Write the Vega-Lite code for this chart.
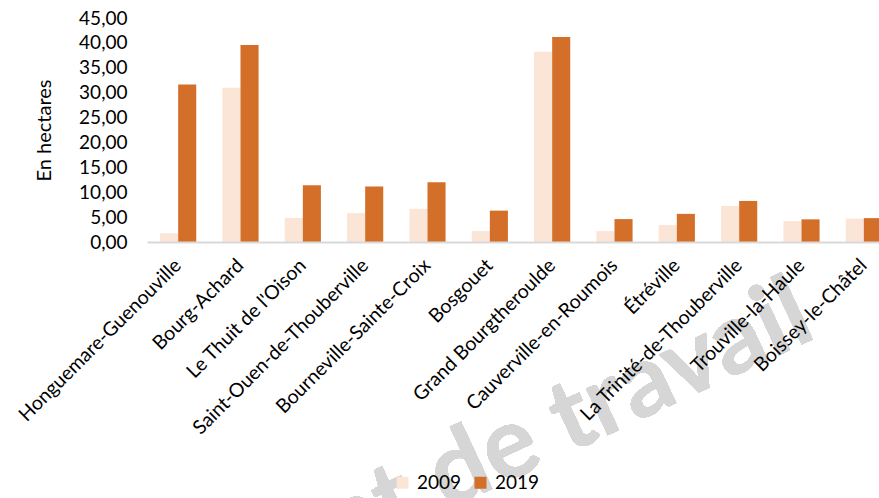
{
  "$schema": "https://vega.github.io/schema/vega-lite/v6.json",
  "width": 748,
  "height": 224,
  "autosize": {"type": "none"},
  "padding": {"left": 147, "top": 18, "right": 0, "bottom": 256},
  "background": "white",
  "config": {"view": {"stroke": null}, "font": "Lato"},
  "data": {
    "values": [
      {"commune": "Honguemare-Guenouville", "annee": "2009", "surface": 1.75},
      {"commune": "Honguemare-Guenouville", "annee": "2019", "surface": 31.65},
      {"commune": "Bourg-Achard", "annee": "2009", "surface": 31.0},
      {"commune": "Bourg-Achard", "annee": "2019", "surface": 39.6},
      {"commune": "Le Thuit de l'Oison", "annee": "2009", "surface": 4.85},
      {"commune": "Le Thuit de l'Oison", "annee": "2019", "surface": 11.4},
      {"commune": "Saint-Ouen-de-Thouberville", "annee": "2009", "surface": 5.8},
      {"commune": "Saint-Ouen-de-Thouberville", "annee": "2019", "surface": 11.15},
      {"commune": "Bourneville-Sainte-Croix", "annee": "2009", "surface": 6.65},
      {"commune": "Bourneville-Sainte-Croix", "annee": "2019", "surface": 12.0},
      {"commune": "Bosgouet", "annee": "2009", "surface": 2.2},
      {"commune": "Bosgouet", "annee": "2019", "surface": 6.3},
      {"commune": "Grand Bourgtheroulde", "annee": "2009", "surface": 38.2},
      {"commune": "Grand Bourgtheroulde", "annee": "2019", "surface": 41.2},
      {"commune": "Cauverville-en-Roumois", "annee": "2009", "surface": 2.2},
      {"commune": "Cauverville-en-Roumois", "annee": "2019", "surface": 4.6},
      {"commune": "Étréville", "annee": "2009", "surface": 3.4},
      {"commune": "Étréville", "annee": "2019", "surface": 5.65},
      {"commune": "La Trinité-de-Thouberville", "annee": "2009", "surface": 7.25},
      {"commune": "La Trinité-de-Thouberville", "annee": "2019", "surface": 8.25},
      {"commune": "Trouville-la-Haule", "annee": "2009", "surface": 4.2},
      {"commune": "Trouville-la-Haule", "annee": "2019", "surface": 4.55},
      {"commune": "Boissey-le-Châtel", "annee": "2009", "surface": 4.7},
      {"commune": "Boissey-le-Châtel", "annee": "2019", "surface": 4.8}
    ]
  },
  "layer": [
    {
      "mark": {"type": "bar"},
      "encoding": {
        "x": {
          "field": "commune",
          "type": "nominal",
          "sort": null,
          "scale": {
            "domain": ["Honguemare-Guenouville", "Bourg-Achard", "Le Thuit de l'Oison", "Saint-Ouen-de-Thouberville", "Bourneville-Sainte-Croix", "Bosgouet", "Grand Bourgtheroulde", "Cauverville-en-Roumois", "Étréville", "La Trinité-de-Thouberville", "Trouville-la-Haule", "Boissey-le-Châtel"],
            "paddingInner": 0.42,
            "paddingOuter": 0.21
          },
          "axis": {
            "title": null,
            "labelAngle": -45,
            "labelAlign": "right",
            "labelBaseline": "middle",
            "labelFont": "Lato",
            "labelFontSize": 19.5,
            "labelColor": "#000000",
            "labelLimit": 400,
            "labelOverlap": false,
            "labelPadding": 20,
            "ticks": false,
            "domainColor": "#d9d9d9",
            "domainWidth": 2,
            "zindex": 1
          }
        },
        "xOffset": {"field": "annee", "type": "nominal"},
        "y": {
          "field": "surface",
          "type": "quantitative",
          "scale": {"domain": [0, 45], "nice": false},
          "axis": {
            "title": "En hectares",
            "titleFont": "Lato",
            "titleFontSize": 20,
            "titleFontWeight": "normal",
            "titleColor": "#000000",
            "titlePadding": 24,
            "values": [0, 5, 10, 15, 20, 25, 30, 35, 40, 45],
            "labelExpr": "replace(format(datum.value, '.2f'), '.', ',')",
            "labelOverlap": false,
            "labelFont": "Lato",
            "labelFontSize": 19,
            "labelColor": "#000000",
            "labelPadding": 20,
            "ticks": false,
            "domain": false,
            "grid": false,
            "zindex": 1
          }
        },
        "color": {
          "field": "annee",
          "type": "nominal",
          "scale": {"domain": ["2009", "2019"], "range": ["#fbe5d6", "#d46f29"]},
          "legend": {
            "title": null,
            "orient": "none",
            "direction": "horizontal",
            "legendX": 246,
            "legendY": 455,
            "symbolType": "square",
            "symbolSize": 144,
            "symbolStrokeWidth": 0,
            "labelFont": "Lato",
            "labelFontSize": 19,
            "labelColor": "#000000",
            "labelOffset": 5,
            "columnPadding": 9
          }
        }
      }
    },
    {
      "mark": {
        "type": "text",
        "angle": 335,
        "align": "right",
        "baseline": "alphabetic",
        "font": "Lato",
        "fontWeight": "bold",
        "fontSize": 100,
        "color": "#d6d6d6",
        "opacity": 0.9,
        "dx": -50
      },
      "encoding": {
        "x": {
          "datum": "Boissey-le-Châtel",
          "type": "nominal",
          "axis": {
            "title": null,
            "labelAngle": -45,
            "labelAlign": "right",
            "labelBaseline": "middle",
            "labelFont": "Lato",
            "labelFontSize": 19.5,
            "labelColor": "#000000",
            "labelLimit": 400,
            "labelOverlap": false,
            "labelPadding": 20,
            "ticks": false,
            "domainColor": "#d9d9d9",
            "domainWidth": 2,
            "zindex": 1
          }
        },
        "y": {
          "datum": -14.8,
          "type": "quantitative",
          "axis": {
            "title": "En hectares",
            "titleFont": "Lato",
            "titleFontSize": 20,
            "titleFontWeight": "normal",
            "titleColor": "#000000",
            "titlePadding": 24,
            "values": [0, 5, 10, 15, 20, 25, 30, 35, 40, 45],
            "labelExpr": "replace(format(datum.value, '.2f'), '.', ',')",
            "labelOverlap": false,
            "labelFont": "Lato",
            "labelFontSize": 19,
            "labelColor": "#000000",
            "labelPadding": 20,
            "ticks": false,
            "domain": false,
            "grid": false,
            "zindex": 1
          }
        },
        "text": {"value": "Document de travail"}
      }
    }
  ]
}
